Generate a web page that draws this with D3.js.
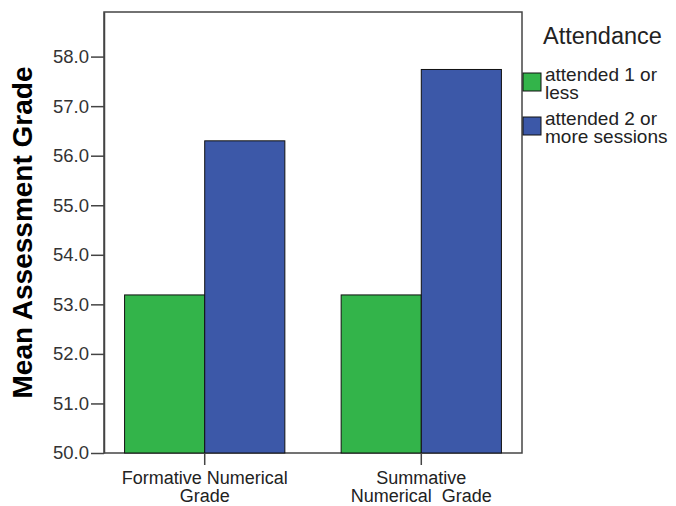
<!DOCTYPE html>
<html>
<head>
<meta charset="utf-8">
<script src="https://cdn.jsdelivr.net/npm/d3@7/dist/d3.min.js"></script>
<style>
  html, body { margin: 0; padding: 0; background: #fff; }
  text { font-family: "Liberation Sans", Arial, sans-serif; }
</style>
</head>
<body>
<div id="chart"></div>
<script>
'use strict';

// data
const categories = [['Formative Numerical', 'Grade'], ['Summative', 'Numerical  Grade']];
const series = ['attended 1 or less', 'attended 2 or more sessions'];
const legendLines = [['attended 1 or', 'less'], ['attended 2 or', 'more sessions']];
const attended1 = [53.19, 53.19];
const attended2 = [56.30, 57.74];
const yTicks = [50, 51, 52, 53, 54, 55, 56, 57, 58];
const colors = ['#33b44a', '#3c58a8'];

const width = 676, height = 506;
const plotLeft = 104, plotRight = 522, plotTop = 12, plotBottom = 453;

const svg = d3.select('#chart').append('svg')
    .attr('width', width)
    .attr('height', height);

const x0 = d3.scaleBand()
    .domain(d3.range(categories.length))
    .range([plotLeft, plotRight])
    .paddingInner(0.26)
    .paddingOuter(0.095);
const x1 = d3.scaleBand()
    .domain(series)
    .range([0, x0.bandwidth()]);
const y = d3.scaleLinear()
    .domain([50, 58.9])
    .range([plotBottom, plotTop]);

const values = [attended1, attended2];

// frame
svg.append('rect')
    .attr('x', plotLeft).attr('y', plotTop)
    .attr('width', plotRight - plotLeft).attr('height', plotBottom - plotTop)
    .attr('fill', 'none')
    .attr('stroke', '#444')
    .attr('stroke-width', 1.5);

// bars
categories.forEach((c, i) => {
    const g = svg.append('g').attr('transform', `translate(${x0(i)},0)`);
    series.forEach((s, j) => {
        g.append('rect')
            .attr('x', x1(s))
            .attr('y', y(values[j][i]))
            .attr('width', x1.bandwidth())
            .attr('height', y(50) - y(values[j][i]))
            .attr('fill', colors[j])
            .attr('stroke', '#111')
            .attr('stroke-width', 1);
    });
});

// y axis
const yAxis = svg.append('g')
    .attr('transform', `translate(${plotLeft},0)`)
    .call(d3.axisLeft(y).tickValues(yTicks).tickFormat(d3.format('.1f'))
        .tickSizeInner(13).tickSizeOuter(0).tickPadding(2));
yAxis.select('.domain').attr('stroke', '#444').attr('stroke-width', 1.5);
yAxis.selectAll('.tick line').attr('stroke', '#444').attr('stroke-width', 1.5);
yAxis.selectAll('.tick text')
    .attr('fill', '#333')
    .style('font-size', '18.5px')
    .style('font-family', '"Liberation Sans", Arial, sans-serif');

// x axis
const xAxis = svg.append('g')
    .attr('transform', `translate(0,${plotBottom})`)
    .call(d3.axisBottom(x0).tickSize(12).tickFormat(''));
xAxis.select('.domain').remove();
xAxis.selectAll('.tick line').attr('stroke', '#444').attr('stroke-width', 1.5);
xAxis.selectAll('.tick').each(function (d) {
    const t = d3.select(this).append('text')
        .attr('fill', '#222')
        .attr('text-anchor', 'middle')
        .style('white-space', 'pre')
        .style('font-size', '18px')
        .style('font-family', '"Liberation Sans", Arial, sans-serif');
    categories[d].forEach((line, k) => {
        t.append('tspan').attr('x', 0).attr('y', 31 + k * 18).text(line);
    });
});

// y title
svg.append('text')
    .attr('transform', `translate(32,${(plotTop + plotBottom) / 2}) rotate(-90)`)
    .attr('text-anchor', 'middle')
    .style('font-size', '28px')
    .style('font-weight', 'bold')
    .attr('fill', '#000')
    .text('Mean Assessment Grade');

// legend
const legend = svg.append('g');
legend.append('text')
    .attr('x', 543).attr('y', 44)
    .style('font-size', '23.5px')
    .attr('fill', '#222')
    .text('Attendance');
series.forEach((s, j) => {
    const gy = 73 + j * 44;
    legend.append('rect')
        .attr('x', 523).attr('y', gy)
        .attr('width', 18).attr('height', 18)
        .attr('fill', colors[j])
        .attr('stroke', '#111')
        .attr('stroke-width', 1);
    const t = legend.append('text')
        .attr('fill', '#222')
        .style('font-size', '19px');
    legendLines[j].forEach((line, k) => {
        t.append('tspan').attr('x', 545).attr('y', gy + 8 + k * 18).text(line);
    });
});
</script>
</body>
</html>
